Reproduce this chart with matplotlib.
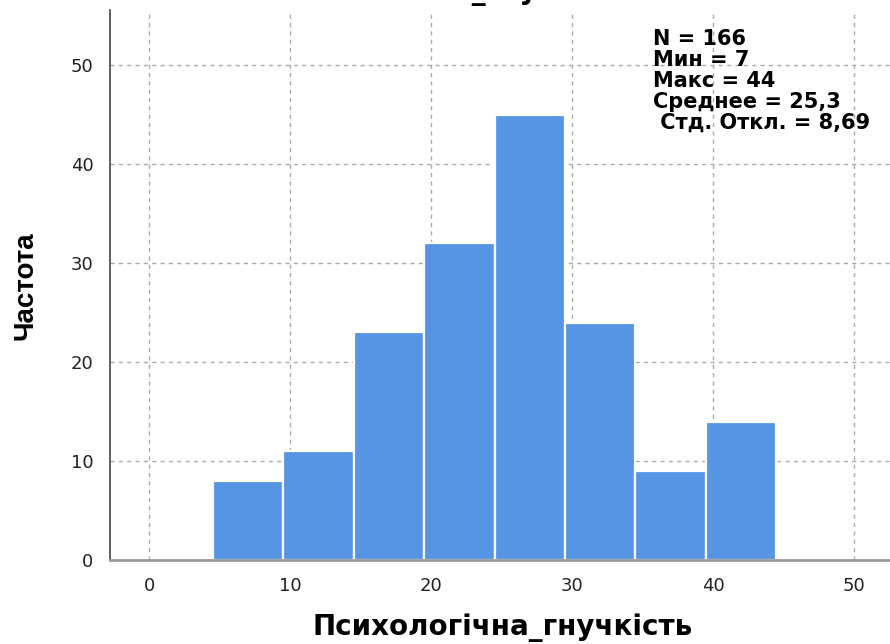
import matplotlib.pyplot as plt
import numpy as np

# histogram bins (width 5) and counts
bin_edges = [4.5, 9.5, 14.5, 19.5, 24.5, 29.5, 34.5, 39.5, 44.5]
counts = [8, 11, 23, 32, 45, 24, 9, 14]
x_ticks = [0, 10, 20, 30, 40, 50]
y_ticks = [0, 10, 20, 30, 40, 50]
stats_lines = ['N = 166', 'Мин = 7', 'Макс = 44', 'Среднее = 25,3', ' Стд. Откл. = 8,69']
var_name = 'Психологічна_гнучкість'

W, H = 890, 644
fig = plt.figure(figsize=(W / 100, H / 100), dpi=100)
ax = fig.add_axes([110 / W, 1 - 560 / H, 1 - 110 / W, 550 / H])

edges = np.array(bin_edges)
ax.bar(edges[:-1], counts, width=np.diff(edges), align='edge',
       color='#5695E3', edgecolor='white', linewidth=1.6, zorder=3)

ax.set_xlim(-2.77, 52.55)
ax.set_ylim(0, 55.6)
ax.set_xticks(x_ticks)
ax.set_yticks(y_ticks)
ax.grid(True, linestyle=(0, (3, 3)), color='#aaaaaa', linewidth=1, zorder=0)
ax.tick_params(length=0, pad=12, labelsize=13, labelcolor='#222222')
for lab in ax.get_xticklabels() + ax.get_yticklabels():
    lab.set_family('DejaVu Sans')

for s in ['top', 'right']:
    ax.spines[s].set_visible(False)
ax.spines['left'].set_color('#444444')
ax.spines['left'].set_linewidth(1.2)
ax.spines['bottom'].set_color('#999999')
ax.spines['bottom'].set_linewidth(2)
ax.spines['bottom'].set_zorder(4)

# axis titles
fig.text(25 / W, 1 - 286 / H, 'Частота', rotation=90, ha='center', va='center',
         family='Liberation Sans', fontweight='bold', fontsize=20)
fig.text(503 / W, 1 - 628 / H, var_name, ha='center', va='center',
         family='DejaVu Sans', fontweight='bold', fontsize=20)
# chart title, clipped by the top edge
fig.text(446 / W, 1 + 1.5 / H, var_name, ha='center', va='baseline',
         family='DejaVu Sans', fontweight='bold', fontsize=20)

# stats box
baselines = [45, 66, 87, 108, 129]
for line, b in zip(stats_lines, baselines):
    fig.text(653 / W, 1 - b / H, line, ha='left', va='baseline',
             family='DejaVu Sans', fontweight='bold', fontsize=15, color='black')

fig.savefig('out.png', dpi=100)
